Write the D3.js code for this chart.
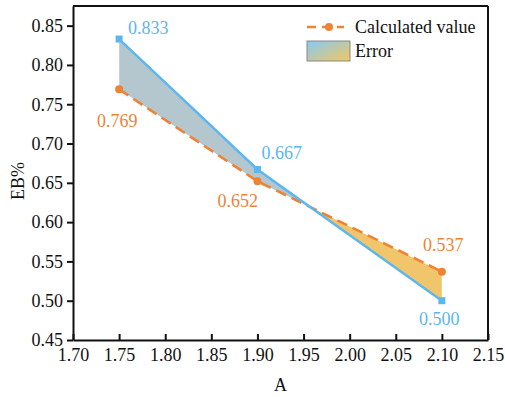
<!DOCTYPE html>
<html>
<head>
<meta charset="utf-8">
<script src="https://cdn.jsdelivr.net/npm/d3@7"></script>
<style>
  body { margin: 0; background: #fff; }
  svg text { font-family: "Liberation Serif", "DejaVu Serif", "Times New Roman", Times, serif; }
</style>
</head>
<body>
<div id="chart"></div>
<script>
// data
const xValues = [1.75, 1.90, 2.10];
const measured = [0.833, 0.667, 0.500];
const calculated = [0.769, 0.652, 0.537];
const xTicks = [1.70, 1.75, 1.80, 1.85, 1.90, 1.95, 2.00, 2.05, 2.10, 2.15];
const yTicks = [0.45, 0.50, 0.55, 0.60, 0.65, 0.70, 0.75, 0.80, 0.85];

const blue = '#5ab7ef';
const orange = '#ee8335';
const serif = '"Liberation Serif", "DejaVu Serif", "Times New Roman", serif';

let margin = {top: 6, right: 17, bottom: 57, left: 73};
let width = 505 - margin.left - margin.right;
let height = 397 - margin.top - margin.bottom;

let svg = d3.select('#chart').append('svg')
    .attr('width', 505)
    .attr('height', 397)
    .attr('font-family', serif);

let defs = svg.append('defs');
let g = svg.append('g')
    .attr('transform', `translate(${margin.left},${margin.top})`);

let x = d3.scaleLinear().domain([1.70, 2.15]).range([0, width]);
let y = d3.scaleLinear().domain([0.45, 0.875]).range([height, 0]);

let points = xValues.map((d, i) => ({x: d, m: measured[i], c: calculated[i]}));

// clip regions for the difference fill
defs.append('clipPath').attr('id', 'belowBlue')
    .append('path')
    .attr('d', d3.area().x(d => x(d.x)).y0(height).y1(d => y(d.m))(points));
defs.append('clipPath').attr('id', 'aboveBlue')
    .append('path')
    .attr('d', d3.area().x(d => x(d.x)).y0(0).y1(d => y(d.m))(points));

// grey part: blue above orange
g.append('path')
    .attr('d', d3.area().x(d => x(d.x)).y0(d => y(d.c)).y1(0)(points))
    .attr('clip-path', 'url(#belowBlue)')
    .attr('fill', '#b5c7ce');

// gold part: orange above blue
g.append('path')
    .attr('d', d3.area().x(d => x(d.x)).y0(height).y1(d => y(d.c))(points))
    .attr('clip-path', 'url(#aboveBlue)')
    .attr('fill', '#f1c56c');

// lines
g.append('path')
    .datum(points)
    .attr('fill', 'none')
    .attr('stroke', orange)
    .attr('stroke-width', 2.6)
    .attr('stroke-dasharray', '11,6')
    .attr('d', d3.line().x(d => x(d.x)).y(d => y(d.c)));

g.append('path')
    .datum(points)
    .attr('fill', 'none')
    .attr('stroke', blue)
    .attr('stroke-width', 2.4)
    .attr('d', d3.line().x(d => x(d.x)).y(d => y(d.m)));

// markers
g.selectAll('.dot')
    .data(points)
    .enter().append('circle')
    .attr('cx', d => x(d.x))
    .attr('cy', d => y(d.c))
    .attr('r', 4)
    .attr('fill', orange);

g.selectAll('.sq')
    .data(points)
    .enter().append('rect')
    .attr('x', d => x(d.x) - 3.5)
    .attr('y', d => y(d.m) - 3.5)
    .attr('width', 7)
    .attr('height', 7)
    .attr('fill', blue);

// value labels (offsets from their point)
let blueOff = [[9, -5], [4, -10], [-23, 24]];
let orangeOff = [[-22, 38], [-40, 26], [-19, -21]];

g.selectAll('.lblm')
    .data(points)
    .enter().append('text')
    .attr('x', (d, i) => x(d.x) + blueOff[i][0])
    .attr('y', (d, i) => y(d.m) + blueOff[i][1])
    .attr('fill', blue)
    .attr('font-size', 18)
    .text(d => d.m.toFixed(3));

g.selectAll('.lblc')
    .data(points)
    .enter().append('text')
    .attr('x', (d, i) => x(d.x) + orangeOff[i][0])
    .attr('y', (d, i) => y(d.c) + orangeOff[i][1])
    .attr('fill', orange)
    .attr('font-size', 18)
    .text(d => d.c.toFixed(3));

// axes
let xAxis = g.append('g')
    .attr('transform', `translate(0,${height})`)
    .call(d3.axisBottom(x).tickValues(xTicks).tickFormat(d3.format('.2f')).tickSizeInner(-6).tickSizeOuter(0).tickPadding(8));
let yAxis = g.append('g')
    .call(d3.axisLeft(y).tickValues(yTicks).tickFormat(d3.format('.2f')).tickSizeInner(6).tickSizeOuter(0).tickPadding(4));

[xAxis, yAxis].forEach(a => {
    a.attr('font-family', serif).attr('font-size', 18);
    a.selectAll('text').attr('fill', '#111');
    a.selectAll('line').attr('stroke', '#111').attr('stroke-width', 2);
    a.select('.domain').attr('stroke', '#111').attr('stroke-width', 2);
});

// frame on top and right
g.append('line').attr('x1', 0).attr('x2', width).attr('y1', 0).attr('y2', 0)
    .attr('stroke', '#111').attr('stroke-width', 2);
g.append('line').attr('x1', width).attr('x2', width).attr('y1', 0).attr('y2', height)
    .attr('stroke', '#111').attr('stroke-width', 2);

// axis titles
svg.append('text')
    .attr('x', margin.left + width / 2)
    .attr('y', 391)
    .attr('text-anchor', 'middle')
    .attr('font-size', 18)
    .attr('fill', '#111')
    .text('A');

svg.append('text')
    .attr('transform', `translate(24,${margin.top + height / 2 + 8}) rotate(-90)`)
    .attr('text-anchor', 'middle')
    .attr('font-size', 18)
    .attr('fill', '#111')
    .text('EB%');

// legend
let grad = defs.append('linearGradient').attr('id', 'errGrad')
    .attr('x1', '0%').attr('y1', '0%').attr('x2', '100%').attr('y2', '100%');
grad.append('stop').attr('offset', '0%').attr('stop-color', '#86caf6');
grad.append('stop').attr('offset', '100%').attr('stop-color', '#f2c75e');

let legend = svg.append('g').attr('transform', 'translate(307,0)');
legend.append('line')
    .attr('x1', 0).attr('x2', 37).attr('y1', 27).attr('y2', 27)
    .attr('stroke', orange).attr('stroke-width', 2.6)
    .attr('stroke-dasharray', '9,6');
legend.append('circle').attr('cx', 22).attr('cy', 27).attr('r', 4).attr('fill', orange);
legend.append('text').attr('x', 48).attr('y', 33).attr('font-size', 18).attr('fill', '#111')
    .text('Calculated value');
legend.append('rect')
    .attr('x', 0).attr('y', 41).attr('width', 43).attr('height', 20)
    .attr('fill', 'url(#errGrad)')
    .attr('stroke', '#888').attr('stroke-width', 1);
legend.append('text').attr('x', 48).attr('y', 57).attr('font-size', 18).attr('fill', '#111')
    .text('Error');
</script>
</body>
</html>
